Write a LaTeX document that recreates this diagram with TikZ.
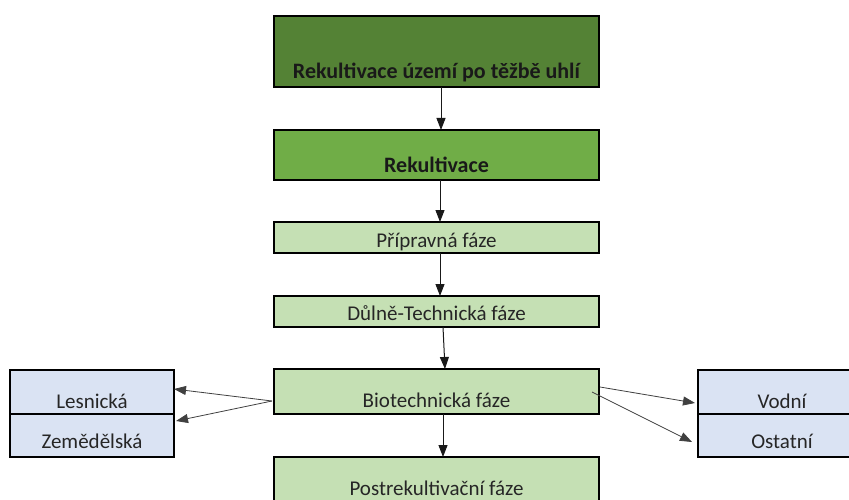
\documentclass[tikz,border=0pt]{standalone}
\usepackage{fontspec}
\setmainfont{Carlito}
\usetikzlibrary{arrows.meta}
\definecolor{dkgreen}{HTML}{548235}
\definecolor{mdgreen}{HTML}{70AD47}
\definecolor{ltgreen}{HTML}{C5E0B4}
\definecolor{ltblue}{HTML}{DAE3F3}
\begin{document}
\begin{tikzpicture}[x=1pt,y=-1pt,
  box/.style={draw=black,line width=2pt,inner sep=0pt,outer sep=0pt,minimum width=325pt},
  side/.style={draw=black,line width=2pt,inner sep=0pt,outer sep=0pt,fill=ltblue,minimum height=44pt},
  lbl/.style={font=\fontsize{21}{24}\selectfont,text=black!85,anchor=base},
  blbl/.style={font=\fontsize{22}{25}\selectfont\bfseries,text=black!90,anchor=base},
  arr/.style={-{Triangle[length=12pt,width=9pt]},line width=1pt,black!90},
  thin/.style={arr,black!75,line width=0.8pt}]
\useasboundingbox (0,0) rectangle (849,500);
% boxes
\node[box,fill=dkgreen,minimum height=71pt] (top) at (436.5,51.5) {};
\node[box,fill=mdgreen,minimum height=50pt] (rek) at (436.5,155) {};
\node[box,fill=ltgreen,minimum height=31pt] (prip) at (436.5,237.5) {};
\node[box,fill=ltgreen,minimum height=31pt] (dul) at (436.5,311.5) {};
\node[box,fill=ltgreen,minimum height=45pt] (bio) at (436.5,391.5) {};
\node[box,fill=ltgreen,minimum height=50pt] (post) at (436.5,482) {};
\node[side,minimum width=164pt] (les) at (92,392) {};
\node[side,minimum width=164pt,minimum height=43pt] (zem) at (92,435.5) {};
\node[side,minimum width=157pt] (vod) at (776.5,392) {};
\node[side,minimum width=157pt,minimum height=43pt] (ost) at (776.5,435.5) {};
% texts
\node[blbl] (t1) at (436.5,79) {Rekultivace území po těžbě uhlí};
\node[blbl] (t2) at (436.5,172) {Rekultivace};
\node[lbl] (t3) at (436.5,247) {Přípravná fáze};
\node[lbl] (t4) at (436.5,320) {Důlně-Technická fáze};
\node[lbl] (t5) at (436.5,407) {Biotechnická fáze};
\node[lbl] (t6) at (436.5,495) {Postrekultivační fáze};
\node[lbl] (t7) at (92,408) {Lesnická};
\node[lbl] (t8) at (92,448) {Zemědělská};
\node[lbl] (t9) at (782,408) {Vodní};
\node[lbl] (t10) at (782,448) {Ostatní};
% arrows
\draw[arr] ([xshift=4.5pt]top.south) -- ([xshift=4.5pt]rek.north);
\draw[arr] ([xshift=3.5pt]rek.south) -- ([xshift=3.5pt]prip.north);
\draw[arr] ([xshift=3.5pt]prip.south) -- ([xshift=3.5pt]dul.north);
\draw[arr] ([xshift=6.5pt]dul.south) -- ([xshift=8.5pt]bio.north);
\draw[arr] ([xshift=6.5pt]bio.south) -- ([xshift=6.5pt]post.north);
\draw[thin] ([shift={(-2pt,-9.5pt)}]bio.west) -- ([yshift=3pt]les.east);
\draw[thin] ([shift={(-2pt,-9.5pt)}]bio.west) -- ([shift={(2pt,14.5pt)}]zem.east);
\draw[thin] ([shift={(1pt,4.5pt)}]bio.east) -- ([shift={(-3pt,-11pt)}]vod.west);
\draw[thin] ([shift={(-7pt,-0.5pt)}]bio.east) -- ([shift={(-6pt,-6.5pt)}]ost.west);
\end{tikzpicture}
\end{document}
